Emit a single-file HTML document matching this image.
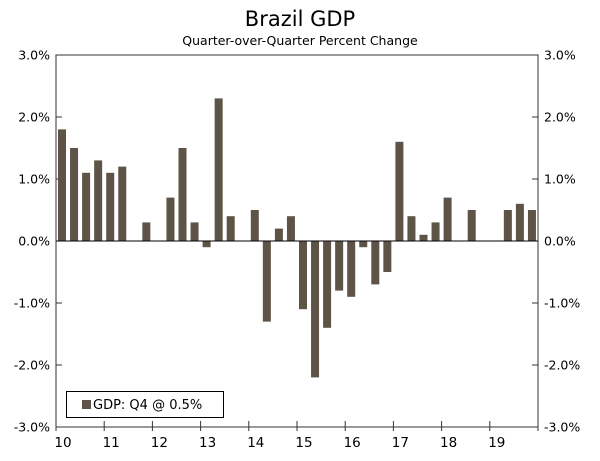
<!DOCTYPE html>
<html><head><meta charset="utf-8"><style>
body{margin:0;background:#fff;width:600px;height:457px;overflow:hidden;font-family:"DejaVu Sans","Liberation Sans",sans-serif}
</style></head><body>
<svg id="c" width="600" height="457">
<text x="300" y="26" text-anchor="middle" font-size="21" fill="#000">Brazil GDP</text>
<text x="300" y="45" text-anchor="middle" font-size="12.5" fill="#000">Quarter-over-Quarter Percent Change</text>
<g id="g"></g>
</svg>
<script>
const quarters=[];for(let y=10;y<=19;y++)for(let q=1;q<=4;q++)quarters.push(y+'Q'+q);
const gdpValues=[1.8,1.5,1.1,1.3, 1.1,1.2,0,0.3, 0,0.7,1.5,0.3, -0.1,2.3,0.4,0, 0.5,-1.3,0.2,0.4, -1.1,-2.2,-1.4,-0.8, -0.9,-0.1,-0.7,-0.5, 1.6,0.4,0.1,0.3, 0.7,0,0.5,0, 0,0.5,0.6,0.5];
const yTicks=[3,2,1,0,-1,-2,-3];
const yearLabels=['10','11','12','13','14','15','16','17','18','19'];
const L=56,R=538,T=55,B=427,ymin=-3,ymax=3;
const ys=v=>T+(ymax-v)/(ymax-ymin)*(B-T);
const slot=(R-L)/quarters.length;
const xs=i=>L+i*slot;
const g=document.getElementById('g');const NS='http://www.w3.org/2000/svg';
function el(t,a){const e=document.createElementNS(NS,t);for(const k in a)e.setAttribute(k,a[k]);g.appendChild(e);return e;}
let e=el('rect',{x:L,y:T,width:R-L,height:B-T,fill:'none',stroke:'#333','stroke-width':1});


yTicks.forEach(v=>{const y=ys(v);
 let t=el('line',{x1:L,x2:L+6,y1:y,y2:y,stroke:'#333'});
 
 
 t=el('line',{x1:R-6,x2:R,y1:y,y2:y,stroke:'#333'});
 
 
 const lab=v.toFixed(1)+'%';
 let a=el('text',{x:L-6,y:y+4.5,'text-anchor':'end','font-size':12.5});a.textContent=lab;
 
 
 a=el('text',{x:R+6,y:y+4.5,'font-size':12.5});a.textContent=lab;
 
 
});
gdpValues.forEach((v,i)=>{if(v===0)return;const y0=ys(0),y1=ys(v);
 const b=el('rect',{x:xs(i)+2,y:Math.min(y0,y1),width:8,height:Math.abs(y1-y0),fill:'#5e5347'});
 
 
});
e=el('line',{x1:L,x2:R,y1:ys(0),y2:ys(0),stroke:'#000','stroke-width':1});


yearLabels.forEach((s,i)=>{const x=xs(i*4);
 let t=el('line',{x1:x,x2:x,y1:B-6,y2:B+4,stroke:'#333'});
 
 
 const a=el('text',{x:x+7,y:B+20,'text-anchor':'middle','font-size':13.5});a.textContent=s;
 
 
});
let t=el('line',{x1:R,x2:R,y1:B-6,y2:B+4,stroke:'#333'});


e=el('rect',{x:66.5,y:391.5,width:157,height:26,fill:'#fff',stroke:'#000'});


e=el('rect',{x:82,y:400,width:9,height:9,fill:'#5e5347'});


e=el('text',{x:93,y:409,'font-size':13});e.textContent='GDP: Q4 @ 0.5%';


</script>
</body></html>
